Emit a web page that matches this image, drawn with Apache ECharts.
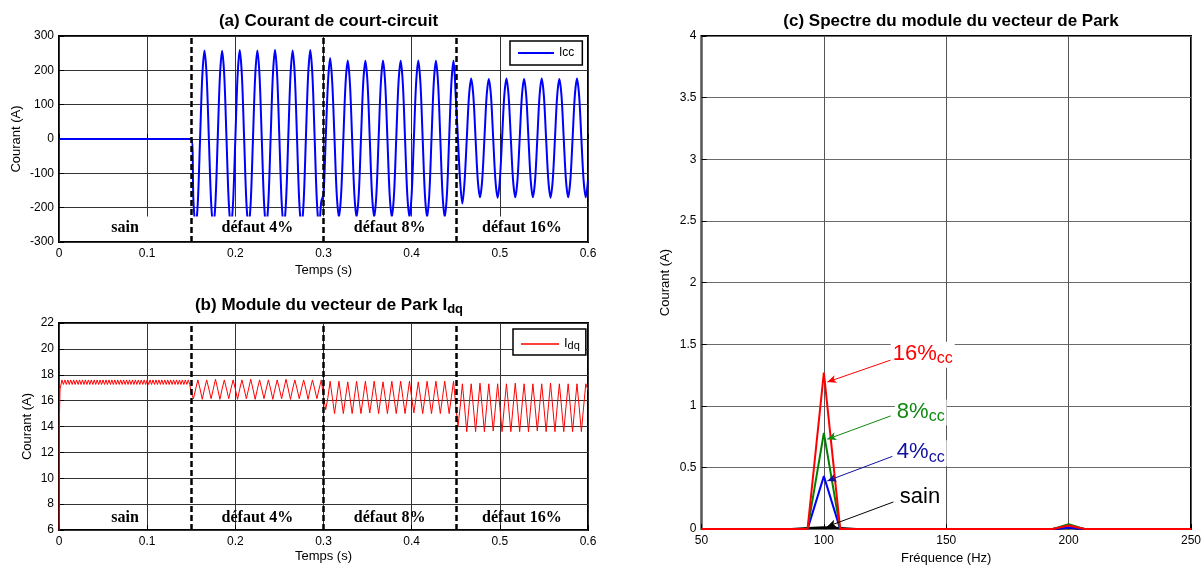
<!DOCTYPE html>
<html><head><meta charset="utf-8">
<script src="https://cdn.jsdelivr.net/npm/echarts@6/dist/echarts.min.js"></script>
<style>html,body{margin:0;padding:0;background:#fff}#c{width:1204px;height:570px}</style>
</head><body><div id="c"></div>
<script>
// ================= DATA =================
// time axis (s) and tick layout
const timeMin = 0, timeMax = 0.6, timeTick = 0.1;
const iccMin = -300, iccMax = 300, iccTick = 100;
const idqMin = 6, idqMax = 22, idqTick = 2;
const freqMin = 50, freqMax = 250, freqTick = 50;
const specMin = 0, specMax = 4, specTick = 0.5;

// fault boundaries (s) and region labels
const faultTimes = [0.15, 0.3, 0.45];
const regionNames = ['sain', 'défaut 4%', 'défaut 8%', 'défaut 16%'];
const regionCenters = [0.075, 0.225, 0.375, 0.525];

// (a) Icc  — sampled signal, sampling step 2.5 ms
const STEP = 0.0025;
const iccSainT = [0, 0.15];
const iccSain = [0, 0];
const icc4Start = 0.1525;
const icc4 = [
 -182,-258,-182,0,182,258,182,0,
 -182,-258,-182,0,182,257,182,0,
 -182,-258,-182,0,182,259,182,0,
 -182,-258,-182,0,182,258,182,0,
 -182,-258,-182,0,182,260,182,0,
 -182,-258,-182,0,182,258,182,0,
 -182,-258,-182,0,182,259,182,0,
 -182,-258,-182];
const icc8Start = 0.3;
const icc8 = [
 -161,0,161,236,161,0,-161,-228,
 -161,0,161,229,161,0,-161,-228,
 -161,0,161,228,161,0,-161,-228,
 -161,0,161,229,161,0,-161,-228,
 -161,0,161,228,161,0,-161,-228,
 -161,0,161,229,161,0,-161,-228,
 -161,0,161,228,161,0,-161,-228,
 -161,0,161,229];
const icc16Start = 0.45;
const icc16 = [
 124,0,-124,-188,-124,0,124,176,
 124,0,-120,-170,-120,0,124,175,
 124,0,-120,-171,-120,0,124,176,
 124,0,-120,-170,-120,0,124,175,
 124,0,-120,-170,-120,0,124,176,
 124,0,-120,-171,-120,0,124,175,
 124,0,-120,-170,-120,0,124,176,
 124,0,-120,-170,-120];
// white label band at the bottom of (a): [t0, y0, t1, y1]
const iccLabelBand = [0.0012, -226, 0.5988, -296];

// (b) Idq
const idqStartT = [0, 0.0004, 0.0012, 0.0025];
const idqStartV = [0, 14.5, 16.9, 17.3];
const idqSainStart = 0.0033, idqSainStep = 0.0016667;
const idqSain = [
 17.6,17.25,17.6,17.25,17.6,17.25,17.6,17.25,17.6,17.25,17.6,17.25,17.6,17.25,17.6,17.25,
 17.6,17.25,17.6,17.25,17.6,17.25,17.6,17.25,17.6,17.25,17.6,17.25,17.6,17.25,17.6,17.25,
 17.6,17.25,17.6,17.25,17.6,17.25,17.6,17.25,17.6,17.25,17.6,17.25,17.6,17.25,17.6,17.25,
 17.6,17.25,17.6,17.25,17.6,17.25,17.6,17.25,17.6,17.25,17.6,17.25,17.6,17.25,17.6,17.25,
 17.6,17.25,17.6,17.25,17.6,17.25,17.6,17.25,17.6,17.25,17.6,17.25,17.6,17.25,17.6,17.25,
 17.6,17.25,17.6,17.25,17.6,17.25,17.6,17.25];
const idq4Start = 0.15;
const idq4 = [
 16.6,16.15,16.9,17.6, 16.9,16.1,16.9,17.6, 16.9,16.15,16.9,17.65, 16.9,16.1,16.9,17.6,
 16.9,16.15,16.9,17.6, 16.9,16.1,16.9,17.6, 16.9,16.15,16.9,17.65, 16.9,16.1,16.9,17.6,
 16.9,16.15,16.9,17.6, 16.9,16.1,16.9,17.6, 16.9,16.15,16.9,17.65, 16.9,16.1,16.9,17.6,
 16.9,16.15,16.9,17.6, 16.9,16.1,16.9,17.6, 16.9,16.15,16.9,17.6];
const idq8Start = 0.3;
const idq8 = [
 16.3,15.3,16.25,17.5, 16.25,15.0,16.25,17.5, 16.25,15.0,16.25,17.45, 16.25,15.0,16.25,17.5,
 16.25,15.0,16.25,17.5, 16.25,15.05,16.25,17.5, 16.25,15.0,16.25,17.45, 16.25,15.0,16.25,17.5,
 16.25,15.0,16.25,17.5, 16.25,15.0,16.25,17.5, 16.25,15.05,16.25,17.45, 16.25,15.0,16.25,17.5,
 16.25,15.0,16.25,17.5, 16.25,15.0,16.25,17.5, 16.25,15.0,16.25,17.5];
const idq16Start = 0.45;
const idq16 = [
 15.6,14.0,15.5,17.3, 15.5,13.6,15.5,17.3, 15.5,13.6,15.5,17.35, 15.5,13.6,15.5,17.3,
 15.5,13.65,15.5,17.3, 15.5,13.6,15.5,17.3, 15.5,13.6,15.5,17.35, 15.5,13.6,15.5,17.3,
 15.5,13.6,15.5,17.3, 15.5,13.65,15.5,17.3, 15.5,13.6,15.5,17.35, 15.5,13.6,15.5,17.3,
 15.5,13.6,15.5,17.3, 15.5,13.6,15.5,17.3, 15.5,13.6,15.5,17.3, 16.8];

// (c) spectrum of Park vector modulus (frequency bins, Hz)
const freqHz   = [50, 86.67, 93.33, 100, 106.67, 113.33, 186.67, 193.33, 200, 206.67, 213.33, 250];
const specSain = [0, 0, 0.008, 0.015, 0.008, 0, 0, 0, 0.01, 0, 0, 0];
const spec4    = [0, 0, 0, 0.43, 0, 0, 0, 0, 0.012, 0, 0, 0];
const spec8    = [0, 0, 0, 0.78, 0, 0, 0, 0, 0.04, 0, 0, 0];
const spec16   = [0, 0, 0, 1.27, 0, 0, 0, 0, 0.03, 0, 0, 0];

// annotations (c): label anchor [Hz, A], arrow start, arrow end
const annotNames = ['16%', '8%', '4%', 'sain'];
const annotLabelPos = [[127.3, 1.415], [129.0, 0.945], [129.0, 0.615], [130.2, 0.26]];
const annotArrowFrom = [[127.3, 1.371], [127.3, 0.918], [128.0, 0.59], [128.4, 0.22]];
const annotArrowTo = [[101.4, 1.193], [101.4, 0.729], [101.4, 0.391], [101.3, 0.02]];

// ================= CHART =================
function seg(start, step, vals) { return vals.map((v, i) => [+(start + i * step).toFixed(6), v]); }
function pairs(ts, vs) { return ts.map((t, i) => [t, vs[i]]); }

const iccData = [].concat(pairs(iccSainT, iccSain), seg(icc4Start, STEP, icc4), seg(icc8Start, STEP, icc8), seg(icc16Start, STEP, icc16));
const idqData = [].concat(pairs(idqStartT, idqStartV), seg(idqSainStart, idqSainStep, idqSain), seg(idq4Start, STEP, idq4), seg(idq8Start, STEP, idq8), seg(idq16Start, STEP, idq16));
const specSeries = [specSain, spec4, spec8, spec16];
const specNames = ['sain', '4%cc', '8%cc', '16%cc'];
const specColors = ['#000000', '#0000ff', '#008000', '#ff0000'];

const FONT = '"Liberation Sans", Arial, sans-serif';
const SERIF = '"Liberation Serif", "Times New Roman", serif';

function xAx(gi, min, max, itv, name, gap, gridColor) {
  return {
    type: 'value', gridIndex: gi, min, max, interval: itv,
    name, nameLocation: 'middle', nameGap: gap,
    nameTextStyle: { fontFamily: FONT, fontSize: 13, color: '#000' },
    axisLine: { show: false },
    axisTick: { show: true, inside: true, length: 5, lineStyle: { color: '#000' } },
    axisLabel: { fontFamily: FONT, fontSize: 12, color: '#000', margin: 6 },
    splitLine: { show: true, lineStyle: { color: gridColor, width: 1 } }
  };
}
function yAx(gi, min, max, itv, name, gap, gridColor) {
  return {
    type: 'value', gridIndex: gi, min, max, interval: itv,
    name, nameLocation: 'middle', nameGap: gap,
    nameTextStyle: { fontFamily: FONT, fontSize: 13, color: '#000' },
    axisLine: { show: false },
    axisTick: { show: true, inside: true, length: 5, lineStyle: { color: '#000' } },
    axisLabel: { fontFamily: FONT, fontSize: 12, color: '#000', margin: 5 },
    splitLine: { show: true, lineStyle: { color: gridColor, width: 1 } }
  };
}

const gridBase = { show: true, borderColor: '#000', borderWidth: 2, backgroundColor: '#fff' };

function dashedSeries(gi) {
  return {
    type: 'line', xAxisIndex: gi, yAxisIndex: gi, data: [], z: 4, silent: true,
    markLine: {
      silent: true, symbol: 'none', animation: false, z: 6,
      label: { show: false },
      lineStyle: { color: '#000', width: 2.5, type: [6, 3] },
      data: faultTimes.map(t => ({ xAxis: t }))
    }
  };
}
function regionLabelSeries(gi, yv) {
  return {
    type: 'scatter', xAxisIndex: gi, yAxisIndex: gi, z: 8, silent: true, symbolSize: 0,
    itemStyle: { opacity: 1, color: '#000' },
    data: regionCenters.map((c, i) => [c, yv, regionNames[i]]),
    label: {
      show: true, position: 'inside', formatter: p => p.value[2], opacity: 1,
      fontFamily: SERIF, fontWeight: 'bold', fontSize: 16, color: '#000',
      textBorderWidth: 0, textBorderColor: 'transparent'
    }
  };
}

const series = [
  { name: 'Icc', type: 'line', xAxisIndex: 0, yAxisIndex: 0, data: iccData, showSymbol: false, symbol: 'none',
    smooth: 0.3, lineStyle: { color: '#0000ff', width: 2 }, itemStyle: { color: '#0000ff' }, z: 2 },
  { type: 'custom', xAxisIndex: 0, yAxisIndex: 0, z: 5, silent: true,
    data: [iccLabelBand],
    renderItem: (params, api) => {
      const p0 = api.coord([api.value(0), api.value(1)]);
      const p1 = api.coord([api.value(2), api.value(3)]);
      return { type: 'rect', shape: { x: Math.min(p0[0], p1[0]), y: Math.min(p0[1], p1[1]),
        width: Math.abs(p1[0] - p0[0]), height: Math.abs(p1[1] - p0[1]) },
        style: { fill: '#ffffff' } };
    } },
  dashedSeries(0),
  regionLabelSeries(0, -260),
  { name: 'Idq', type: 'line', xAxisIndex: 1, yAxisIndex: 1, data: idqData, showSymbol: false, symbol: 'none',
    lineStyle: { color: '#ff0000', width: 1 }, itemStyle: { color: '#ff0000' }, z: 2 },
  dashedSeries(1),
  regionLabelSeries(1, 6.92)
];

specSeries.forEach((vals, i) => {
  series.push({
    name: specNames[i], type: 'line', xAxisIndex: 2, yAxisIndex: 2,
    data: pairs(freqHz, vals), showSymbol: false, symbol: 'none',
    lineStyle: { color: specColors[i], width: 2 }, itemStyle: { color: specColors[i] }, z: 2 + i * 0.01
  });
});

// annotation arrows and labels for (c)
const annotColors = ['#ff0000', '#108810', '#1010a0', '#000000'];
annotNames.forEach((nm, i) => {
  series.push({
    type: 'line', xAxisIndex: 2, yAxisIndex: 2, data: [], z: 6, silent: true,
    markLine: {
      silent: true, animation: false, symbol: ['none', 'arrow'], symbolSize: [6, 9],
      label: { show: false },
      lineStyle: { color: annotColors[i], width: 1, type: 'solid', opacity: 1 },
      data: [[{ coord: annotArrowFrom[i] }, { coord: annotArrowTo[i] }]]
    }
  });
});
series.push({
  type: 'scatter', xAxisIndex: 2, yAxisIndex: 2, z: 7, silent: true, symbolSize: 0,
  itemStyle: { opacity: 1 },
  data: annotNames.map((nm, i) => ({ value: [annotLabelPos[i][0], annotLabelPos[i][1]], name: nm })),
  label: {
    show: true, position: 'right', distance: 0, opacity: 1,
    backgroundColor: '#fff', padding: [1, 2, 1, 2],
    textBorderWidth: 0,
    formatter: p => {
      const i = p.dataIndex;
      if (annotNames[i] === 'sain') return '{k|sain}';
      const key = ['r', 'g', 'b'][i];
      return '{' + key + '|' + annotNames[i] + '}{' + key + 's|cc}';
    },
    rich: {
      r: { fontFamily: FONT, fontSize: 22, color: annotColors[0], lineHeight: 24, verticalAlign: 'top' },
      rs: { fontFamily: FONT, fontSize: 16, color: annotColors[0], lineHeight: 16, padding: [12, 0, 0, 0], verticalAlign: 'bottom' },
      g: { fontFamily: FONT, fontSize: 22, color: annotColors[1], lineHeight: 24, verticalAlign: 'top' },
      gs: { fontFamily: FONT, fontSize: 16, color: annotColors[1], lineHeight: 16, padding: [12, 0, 0, 0], verticalAlign: 'bottom' },
      b: { fontFamily: FONT, fontSize: 22, color: annotColors[2], lineHeight: 24, verticalAlign: 'top' },
      bs: { fontFamily: FONT, fontSize: 16, color: annotColors[2], lineHeight: 16, padding: [12, 0, 0, 0], verticalAlign: 'bottom' },
      k: { fontFamily: FONT, fontSize: 22, color: '#000', lineHeight: 26 }
    }
  }
});

const option = {
  animation: false,
  backgroundColor: '#fff',
  title: [
    { text: '(a) Courant de court-circuit', left: 323.5, top: 8, textAlign: 'center',
      textStyle: { fontFamily: FONT, fontSize: 17, fontWeight: 'bold', color: '#000' } },
    { text: '{m|(b) Module du vecteur de Park I}{s|dq}', left: 324, top: 292, textAlign: 'center',
      textStyle: { fontFamily: FONT, fontSize: 17, fontWeight: 'bold', color: '#000',
        rich: {
          m: { fontFamily: FONT, fontSize: 17, fontWeight: 'bold', color: '#000', lineHeight: 19, verticalAlign: 'top' },
          s: { fontFamily: FONT, fontSize: 13, fontWeight: 'bold', color: '#000', lineHeight: 13, padding: [10, 0, 0, 0], verticalAlign: 'bottom' }
        } } },
    { text: '(c) Spectre du module du vecteur de Park', left: 946, top: 8, textAlign: 'center',
      textStyle: { fontFamily: FONT, fontSize: 17, fontWeight: 'bold', color: '#000' } }
  ],
  legend: [
    { data: ['Icc'], left: 510, top: 41, itemWidth: 36, itemHeight: 2, itemGap: 4, icon: 'rect',
      padding: [6, 8, 6, 8], borderColor: '#000', borderWidth: 1.5, backgroundColor: '#fff',
      textStyle: { fontFamily: FONT, fontSize: 12, color: '#000' }, selectedMode: false },
    { data: ['Idq'], left: 513, top: 329, itemWidth: 38, itemHeight: 1.5, itemGap: 4, icon: 'rect',
      padding: [4, 6, 4, 8], borderColor: '#000', borderWidth: 1.5, backgroundColor: '#fff',
      formatter: () => '{a|I}{b|dq}',
      textStyle: { fontFamily: FONT, fontSize: 12, color: '#000',
        rich: { a: { fontSize: 13, lineHeight: 14, verticalAlign: 'top' },
                b: { fontSize: 11, lineHeight: 11, padding: [7, 0, 0, 0], verticalAlign: 'bottom' } } },
      selectedMode: false }
  ],
  grid: [
    Object.assign({ left: 59, top: 36, width: 529, height: 206 }, gridBase),
    Object.assign({ left: 59, top: 323, width: 529, height: 207 }, gridBase),
    Object.assign({ left: 701.5, top: 36, width: 489.5, height: 494 }, gridBase)
  ],
  xAxis: [
    xAx(0, timeMin, timeMax, timeTick, 'Temps (s)', 22, '#333'),
    xAx(1, timeMin, timeMax, timeTick, 'Temps (s)', 20, '#333'),
    xAx(2, freqMin, freqMax, freqTick, 'Fréquence (Hz)', 21, '#555')
  ],
  yAxis: [
    yAx(0, iccMin, iccMax, iccTick, 'Courant (A)', 36, '#333'),
    yAx(1, idqMin, idqMax, idqTick, 'Courant (A)', 25, '#333'),
    yAx(2, specMin, specMax, specTick, 'Courant (A)', 30, '#6a6a6a')
  ],
  series
};

const chart = echarts.init(document.getElementById('c'), null, { renderer: 'canvas' });
chart.setOption(option);
</script>
</body></html>
